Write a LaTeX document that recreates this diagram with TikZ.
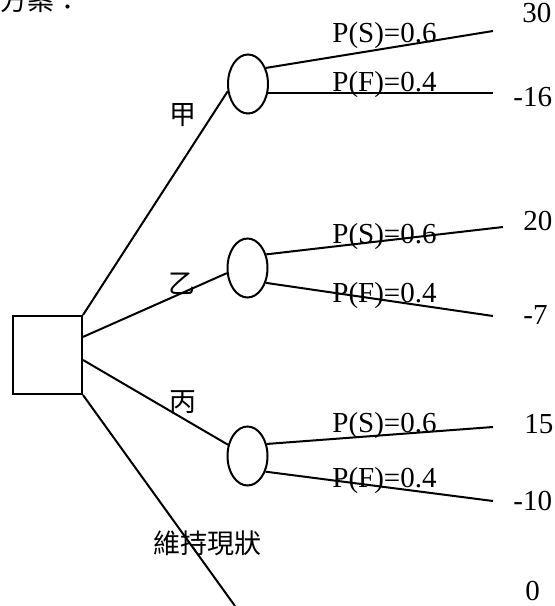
\documentclass[tikz,border=0pt]{standalone}
\usepackage{fontspec}
\setmainfont{Liberation Serif}
\newfontfamily\cjk{Noto Sans CJK TC}
\usepackage{tikz}
\usetikzlibrary{positioning, shapes.geometric}
\tikzset{
  decbox/.style={draw, line width=1pt, minimum width=34.5pt, minimum height=39pt, inner sep=0pt},
  chance/.style={draw, ellipse, line width=1pt, minimum width=20pt, minimum height=29.5pt, inner sep=0pt},
  branch/.style={line width=1pt}
}

\begin{document}
\begin{tikzpicture}[
  x=0.5pt, y=-0.5pt,
  prob/.style={anchor=base west, inner sep=0pt, font=\fontsize{14.5}{17}\selectfont},
  val/.style={prob},
  opt/.style={inner sep=0pt, font=\cjk\fontsize{13.5}{16}\selectfont}
]
\useasboundingbox (0,0) rectangle (554,606);
\node[opt, anchor=base west] (title) at (0,10) {方案：};
\node[decbox] (dec) at (47.5,355) {};
\node[chance] (ch1) at (248,84) {};
\node[chance] (ch2) at (247.5,268) {};
\node[chance] (ch3) at (247.5,456) {};
\node[opt] (optA) at (183,115) {甲};
\node[opt] (optB) at (182,284) {乙};
\node[opt] (optC) at (183,402) {丙};
\node[opt] (optD) at (207,543) {維持現狀};
\node[prob] (ps1) at (332,42) {P(S)=0.6};
\node[prob] (pf1) at (332,91) {P(F)=0.4};
\node[prob] (ps2) at (332,243) {P(S)=0.6};
\node[prob] (pf2) at (332,302) {P(F)=0.4};
\node[prob] (ps3) at (332,432) {P(S)=0.6};
\node[prob] (pf3) at (332,487) {P(F)=0.4};
\node[val] (v1) at (522,22) {30};
\node[val] (v2) at (513,106) {-16};
\node[val] (v3) at (523,230) {20};
\node[val] (v4) at (523,324) {-7};
\node[val] (v5) at (524,433) {15};
\node[val] (v6) at (513,510) {-10};
\node[val] (v7) at (525,600) {0};
\coordinate (s1) at (493,31);
\coordinate (f1) at (493,92);
\coordinate (s2) at (503,227);
\coordinate (f2) at (493,316);
\coordinate (s3) at (493,427);
\coordinate (f3) at (493,501);
\coordinate (q) at (235,606);
\draw[branch] (dec.north east) -- (ch1.200);
\draw[branch] (dec.27.5) -- (ch2.194);
\draw[branch] (dec.352) -- (ch3.150);
\draw[branch] (dec.south east) -- (q);
\draw[branch] (ch1.42) -- (s1);
\draw[branch] (ch1.337) -- (ch1.337 -| f1);
\draw[branch] (ch2.36) -- (s2);
\draw[branch] (ch2.321) -- (f2);
\draw[branch] (ch3.32) -- (s3);
\draw[branch] (ch3.319) -- (f3);
\end{tikzpicture}
\end{document}
